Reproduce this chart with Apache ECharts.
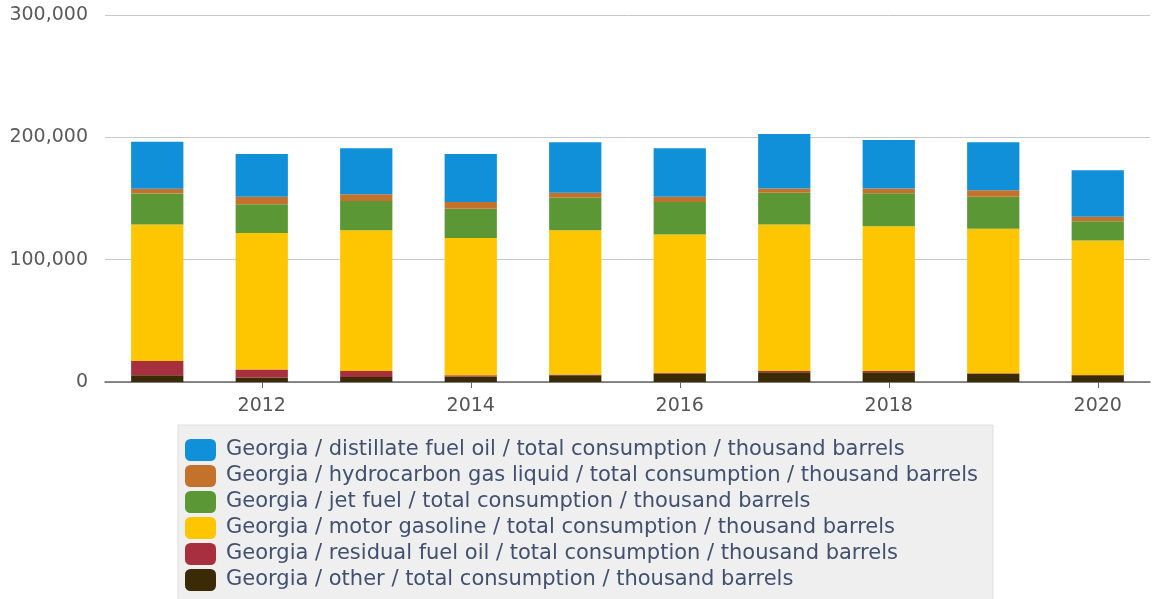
<!DOCTYPE html>
<html>
<head>
<meta charset="utf-8">
<script src="https://cdn.jsdelivr.net/npm/echarts@6/dist/echarts.min.js"></script>
<style>
  html, body { margin: 0; padding: 0; background: #ffffff; }
  #chart { width: 1159px; height: 599px; }
</style>
</head>
<body>
<div id="chart"></div>
<script>
// Georgia petroleum consumption by product, thousand barrels per year
const years = ['2011', '2012', '2013', '2014', '2015', '2016', '2017', '2018', '2019', '2020'];

const other      = [5500, 3600, 4100, 4500, 5500, 7000, 8000, 8000, 6900, 5500];
const residual   = [11700, 6600, 4900, 1000, 600, 400, 1000, 1000, 300, 200];
const gasoline   = [111500, 111700, 115100, 112300, 118000, 113100, 119800, 118400, 118000, 109900];
const jetFuel    = [25400, 23300, 23800, 23900, 26600, 26600, 26000, 26800, 26300, 15900];
const hgl        = [3900, 6300, 5500, 5400, 4100, 4400, 3300, 3900, 5200, 3600];
const distillate = [38300, 34800, 37600, 39200, 41100, 39500, 44600, 39700, 39200, 38000];

const yTicks = [0, 100000, 200000, 300000];

const names = {
  distillate: 'Georgia / distillate fuel oil / total consumption / thousand barrels',
  hgl: 'Georgia / hydrocarbon gas liquid / total consumption / thousand barrels',
  jet: 'Georgia / jet fuel / total consumption / thousand barrels',
  gasoline: 'Georgia / motor gasoline / total consumption / thousand barrels',
  residual: 'Georgia / residual fuel oil / total consumption / thousand barrels',
  other: 'Georgia / other / total consumption / thousand barrels'
};

const colors = {
  distillate: '#0f90d8',
  hgl: '#c4722b',
  jet: '#5b9734',
  gasoline: '#fdc600',
  residual: '#a8303e',
  other: '#3b2a06'
};

// stacked bottom to top
const stack = [
  ['other', other],
  ['residual', residual],
  ['gasoline', gasoline],
  ['jet', jetFuel],
  ['hgl', hgl],
  ['distillate', distillate]
];

const font = "'DejaVu Sans', 'Liberation Sans', Arial, sans-serif";
const showEven = (i) => i % 2 === 1;

const chart = echarts.init(document.getElementById('chart'), null, { renderer: 'canvas' });

chart.setOption({
  animation: false,
  backgroundColor: '#ffffff',
  grid: { left: 105, right: 9, top: 15, bottom: 217, containLabel: false },
  legend: {
    orient: 'vertical',
    left: 178,
    top: 425,
    width: 900,
    height: 180,
    padding: [14, 15, 12, 7],
    backgroundColor: '#efefef',
    borderColor: '#e0e0e0',
    borderWidth: 1,
    itemWidth: 31,
    itemHeight: 22,
    itemGap: 4,
    icon: 'roundRect',
    selectedMode: false,
    textStyle: { fontFamily: font, fontSize: 21, color: '#40506e', padding: [0, 0, 0, 5] },
    data: ['distillate', 'hgl', 'jet', 'gasoline', 'residual', 'other'].map(k => names[k])
  },
  xAxis: {
    type: 'category',
    data: years,
    boundaryGap: true,
    axisLine: { show: true, lineStyle: { color: '#666666', width: 1.5 } },
    axisTick: { show: true, alignWithLabel: true, interval: showEven, length: 6, lineStyle: { color: '#666666' } },
    axisLabel: { interval: showEven, margin: 15, fontFamily: font, fontSize: 19, color: '#555555' },
    splitLine: { show: false }
  },
  yAxis: {
    type: 'value',
    min: yTicks[0],
    max: yTicks[yTicks.length - 1],
    interval: yTicks[1] - yTicks[0],
    axisLine: { show: false },
    axisTick: { show: false },
    axisLabel: {
      margin: 17,
      fontFamily: font,
      fontSize: 19,
      color: '#5a5a5a',
      formatter: (v) => v.toLocaleString('en-US')
    },
    splitLine: { lineStyle: { color: '#c8c8c8', width: 1 } }
  },
  series: stack.map(([key, values]) => ({
    name: names[key],
    type: 'bar',
    stack: 'total',
    barWidth: '50%',
    itemStyle: { color: colors[key] },
    emphasis: { disabled: true },
    data: values
  }))
});
</script>
</body>
</html>
